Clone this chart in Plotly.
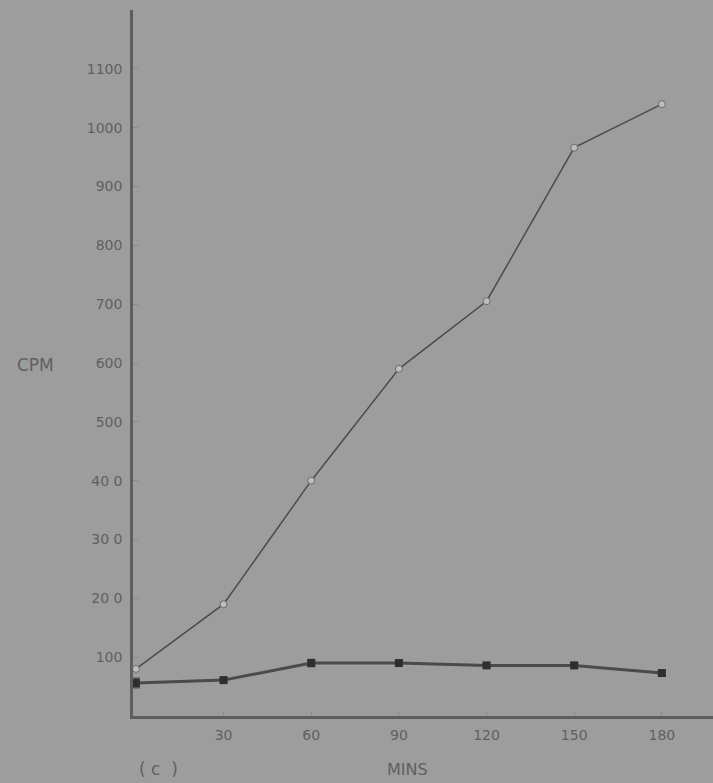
import plotly.graph_objects as go

mins = [0, 30, 60, 90, 120, 150, 180]
open_cpm = [80, 190, 400, 590, 705, 966, 1040]
filled_cpm = [56, 61, 90, 90, 86, 86, 73]
filled_err = [8, 3, 6, 3, 3, 5, 3]

y_ticks = [100, 200, 300, 400, 500, 600, 700, 800, 900, 1000, 1100]
y_labels = ["100", "20 0", "30 0", "40 0", "500", "600", "700", "800", "900", "1000", "1100"]
x_ticks = [30, 60, 90, 120, 150, 180]
x_labels = ["30", "60", "90", "120", "150", "180"]

bg = "#9d9d9d"
ink = "#5e5e5e"
txt = "#606060"

fig = go.Figure()
fig.add_trace(go.Scatter(
    x=mins, y=open_cpm, mode="lines+markers",
    line=dict(color="#4c4c4c", width=1.5),
    marker=dict(symbol="circle", size=7, color="#bdbdbd",
                line=dict(color="#6a6a6a", width=1)),
    showlegend=False))
fig.add_trace(go.Scatter(
    x=mins, y=filled_cpm, mode="lines+markers",
    line=dict(color="#4a4a4a", width=3),
    marker=dict(symbol="square", size=8, color="#2e2e2e"),
    error_y=dict(type="data", array=filled_err, color="#555555", thickness=1.5, width=4),
    showlegend=False))

W, H = 713, 783
l, r, t, b = 133, 0, 10, 67
pw, ph = W - l - r, H - t - b

def px(x, y):
    return (x - l) / pw, (H - b - y) / ph

ann = []
for text, x, y, size in [("CPM", 35, 365, 17), ("( c  )", 158, 769, 17), ("MINS", 407, 769, 16)]:
    ax, ay = px(x, y)
    ann.append(dict(text=text, x=ax, y=ay, xref="paper", yref="paper", showarrow=False,
                    xanchor="center", yanchor="middle",
                    font=dict(size=size, color=txt)))

fig.update_layout(
    width=W, height=H,
    paper_bgcolor=bg, plot_bgcolor=bg,
    margin=dict(l=l, r=r, t=t, b=b),
    font=dict(family="DejaVu Sans", color=txt, size=14),
    xaxis=dict(range=[-1, 197.5], tickvals=x_ticks, ticktext=x_labels,
               showgrid=False, zeroline=False, showline=True, linecolor=ink, linewidth=2.5,
               ticks="inside", ticklen=4, tickcolor="#8a8a8a", tickwidth=1,
               ticklabelstandoff=4,
               tickfont=dict(size=14, color=txt)),
    yaxis=dict(range=[0, 1200], tickvals=y_ticks, ticktext=y_labels,
               showgrid=False, zeroline=False, showline=True, linecolor=ink, linewidth=2.5,
               ticks="inside", ticklen=5, tickcolor="#8a8a8a", tickwidth=1,
               ticklabelstandoff=5,
               tickfont=dict(size=14, color=txt)),
    annotations=ann,
)

fig.write_html("out.html", config={"displayModeBar": False},
               post_script="document.body.style.margin='0';document.body.style.background='#9d9d9d';")
